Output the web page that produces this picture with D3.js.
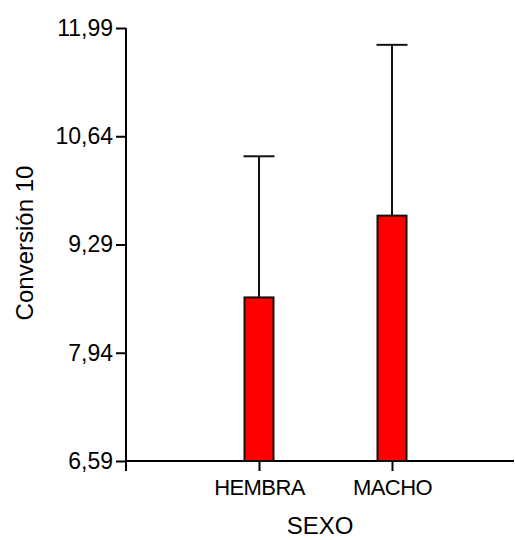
<!DOCTYPE html>
<html lang="es">
  <head>
    <meta charset="UTF-8" />
    <title>Conversión 10 por sexo</title>
    <script src="https://d3js.org/d3.v7.min.js"></script>
    <style>
      body {
        margin: 0;
        padding: 0;
        background: #fff;
        font-family: Arial, "Liberation Sans", sans-serif;
      }
      svg {
        display: block;
      }
    </style>
  </head>
  <body>
    <svg width="515" height="540"></svg>
    <script>
      // datos
      const categories = ["HEMBRA", "MACHO"];
      const means = [8.63, 9.65];
      const errors = [1.76, 2.13];
      const yTicks = [6.59, 7.94, 9.29, 10.64, 11.99];

      const svg = d3.select("svg");

      const plotLeft = 126, plotRight = 514, plotTop = 28, plotBottom = 461;

      const y = d3.scaleLinear().domain([6.59, 11.99]).range([plotBottom, plotTop]);
      const x = d3.scalePoint().domain(categories).range([259, 392]);
      const barW = 29, capW = 31;

      const fmt = (d) => d.toFixed(2).replace(".", ",");

      // eje Y
      const yAxis = svg
        .append("g")
        .attr("transform", `translate(${plotLeft},0)`)
        .call(d3.axisLeft(y).tickValues(yTicks).tickFormat(fmt).tickSize(10).tickPadding(3).tickSizeOuter(0));
      yAxis.select(".domain").remove();
      yAxis.selectAll("line").attr("stroke", "#000").attr("stroke-width", 2);
      yAxis.selectAll("text").attr("font-size", 23).attr("fill", "#000").attr("font-family", "Arial, 'Liberation Sans', sans-serif");

      // eje X
      const xAxis = svg
        .append("g")
        .attr("transform", `translate(0,${plotBottom})`)
        .call(d3.axisBottom(x).tickSize(10).tickPadding(8).tickSizeOuter(0));
      xAxis.select(".domain").remove();
      xAxis.selectAll("line").attr("stroke", "#000").attr("stroke-width", 2);
      xAxis
        .selectAll("text")
        .attr("font-size", 22)
        .attr("fill", "#000")
        .attr("letter-spacing", "-0.6px")
        .attr("font-family", "Arial, 'Liberation Sans', sans-serif");

      // líneas de los ejes
      svg.append("line")
        .attr("x1", plotLeft).attr("x2", plotLeft)
        .attr("y1", plotTop).attr("y2", plotBottom + 10)
        .attr("stroke", "#000").attr("stroke-width", 2);
      svg.append("line")
        .attr("x1", plotLeft).attr("x2", plotRight)
        .attr("y1", plotBottom).attr("y2", plotBottom)
        .attr("stroke", "#000").attr("stroke-width", 2);

      const rows = categories.map((c, i) => ({ cat: c, mean: means[i], err: errors[i] }));

      // barras de error (solo hacia arriba)
      svg.selectAll(".err")
        .data(rows)
        .enter()
        .append("line")
        .attr("x1", (d) => x(d.cat)).attr("x2", (d) => x(d.cat))
        .attr("y1", (d) => y(d.mean)).attr("y2", (d) => y(d.mean + d.err))
        .attr("stroke", "#111").attr("stroke-width", 2);
      svg.selectAll(".cap")
        .data(rows)
        .enter()
        .append("line")
        .attr("x1", (d) => x(d.cat) - capW / 2).attr("x2", (d) => x(d.cat) + capW / 2)
        .attr("y1", (d) => y(d.mean + d.err)).attr("y2", (d) => y(d.mean + d.err))
        .attr("stroke", "#111").attr("stroke-width", 2);

      // barras
      svg.selectAll(".bar")
        .data(rows)
        .enter()
        .append("rect")
        .attr("x", (d) => x(d.cat) - barW / 2)
        .attr("width", barW)
        .attr("y", (d) => y(d.mean))
        .attr("height", (d) => y(6.59) - y(d.mean))
        .attr("fill", "#ff0000")
        .attr("stroke", "#111")
        .attr("stroke-width", 2);

      // títulos
      svg.append("text")
        .attr("x", 320).attr("y", 534)
        .attr("text-anchor", "middle")
        .attr("font-size", 24)
        .text("SEXO");
      svg.append("text")
        .attr("transform", "translate(33,243) rotate(-90)")
        .attr("text-anchor", "middle")
        .attr("font-size", 24)
        .text("Conversión 10");
    </script>
  </body>
</html>
